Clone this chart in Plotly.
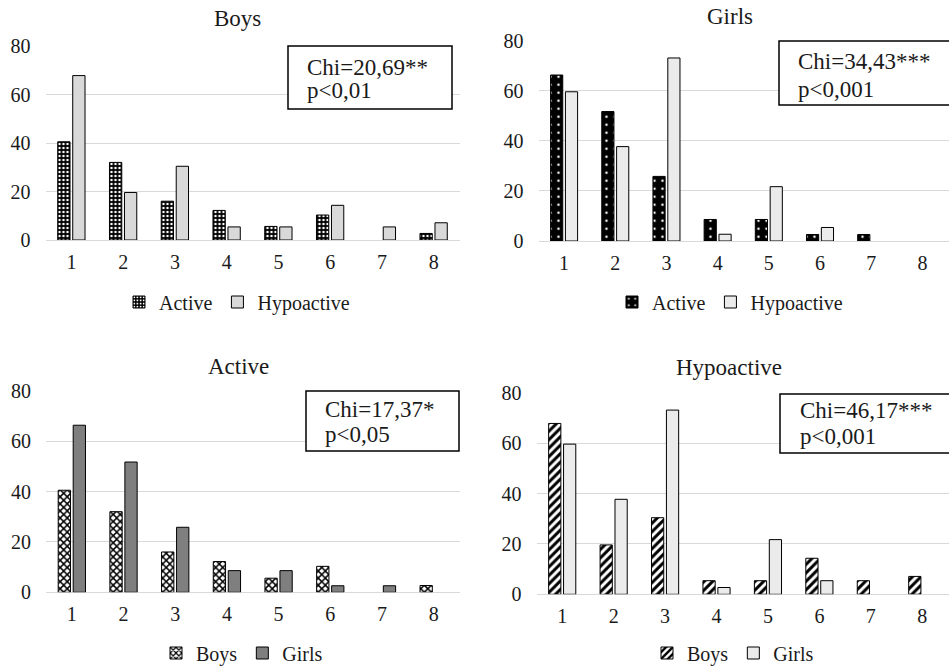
import plotly.graph_objects as go

categories = [1, 2, 3, 4, 5, 6, 7, 8]
boys_active = [40.5, 32.0, 16.0, 12.2, 5.6, 10.3, 0, 2.7]
boys_hypo = [67.8, 19.6, 30.4, 5.4, 5.4, 14.3, 5.4, 7.1]
girls_active = [66.3, 51.7, 25.8, 8.6, 8.6, 2.6, 2.6, 0]
girls_hypo = [59.6, 37.7, 73.1, 2.7, 21.7, 5.4, 0, 0]

panel_titles = ["Boys", "Girls", "Active", "Hypoactive"]
chi_texts = ["Chi=20,69**", "Chi=34,43***", "Chi=17,37*", "Chi=46,17***"]
p_texts = ["p<0,01", "p<0,001", "p<0,05", "p<0,001"]
yticks = [0, 20, 40, 60, 80]

W, H = 949, 667
FONT = '"Liberation Serif", "Times New Roman", serif'
TXT = "#1a1a1a"

def px(x):
    return x / W

def py(y):
    return 1 - y / H

def nz(vals):
    return [v if v else None for v in vals]

fig = go.Figure()

# panel geometry in pixels: (x0, x1, y_top(80), y_bottom(0))
panels = [
    (45.5, 459.5, 46.0, 240.0),
    (538.5, 949.0, 40.7, 241.0),
    (46.0, 459.5, 390.7, 592.3),
    (536.5, 949.0, 392.7, 594.3),
]
xranges = [[0.5, 8.5], [0.5, 8.52], [0.5, 8.5], [0.5, 8.52]]

line = dict(color="#000000", width=1)
series = [
    [("Active", boys_active, dict(color="#000000", line=line,
        pattern=dict(shape=".", bgcolor="#000000", fgcolor="#ffffff", size=4, solidity=0.3, fillmode="replace"))),
     ("Hypoactive", boys_hypo, dict(color="#d9d9d9", line=line))],
    [("Active", girls_active, dict(color="#000000", line=line,
        pattern=dict(shape=".", bgcolor="#000000", fgcolor="#ffffff", size=8, solidity=0.08, fillmode="replace"))),
     ("Hypoactive", girls_hypo, dict(color="#ebebeb", line=line))],
    [("Boys", boys_active, dict(color="#000000", line=line,
        pattern=dict(shape="x", bgcolor="#ffffff", fgcolor="#000000", size=5, solidity=0.5, fillmode="replace"))),
     ("Girls", girls_active, dict(color="#7f7f7f", line=line))],
    [("Boys", boys_hypo, dict(color="#000000", line=line,
        pattern=dict(shape="/", bgcolor="#ffffff", fgcolor="#000000", size=6, solidity=0.5, fillmode="replace"))),
     ("Girls", girls_hypo, dict(color="#ebebeb", line=line))],
]

legend_pos = [(237, 302), (730, 302), (242, 653), (733, 653)]
layout_extra = {}

for i, (x0, x1, yt, yb) in enumerate(panels):
    n = i + 1
    xa = "x" if n == 1 else f"x{n}"
    ya = "y" if n == 1 else f"y{n}"
    lg = "legend" if n == 1 else f"legend{n}"
    for name, vals, marker in series[i]:
        fig.add_trace(go.Bar(x=categories, y=nz(vals), name=name, marker=marker,
                             xaxis=xa, yaxis=ya, legend=lg, showlegend=True))
    xkey = "xaxis" if n == 1 else f"xaxis{n}"
    ykey = "yaxis" if n == 1 else f"yaxis{n}"
    layout_extra[xkey] = dict(domain=[px(x0), px(x1)], anchor=ya, range=xranges[i],
                              tickvals=categories, ticktext=[str(c) for c in categories],
                              showgrid=False, showline=False, zeroline=False, ticks="",
                              automargin=False, ticklabelstandoff=8,
                              tickfont=dict(family=FONT, size=20, color=TXT))
    layout_extra[ykey] = dict(domain=[py(yb), py(yt)], anchor=xa, range=[0, 80],
                              tickvals=yticks, showgrid=True, gridcolor="#d9d9d9", gridwidth=1,
                              zeroline=True, zerolinecolor="#d9d9d9", zerolinewidth=1,
                              showline=False, ticks="", automargin=False,
                              ticklabelstandoff=14,
                              tickfont=dict(family=FONT, size=20, color=TXT))
    lx, lyy = legend_pos[i]
    layout_extra[lg] = dict(orientation="h", x=px(lx), y=py(lyy), xanchor="center", yanchor="middle",
                            font=dict(family=FONT, size=20, color=TXT), bgcolor="rgba(0,0,0,0)",
                            itemwidth=30, tracegroupgap=0, traceorder="normal")

fig.update_layout(**layout_extra)

# titles
title_pos = [(237, 18), (730, 17), (239, 366), (729, 367)]
for t, (tx, ty) in zip(panel_titles, title_pos):
    fig.add_annotation(text=t, x=px(tx), y=py(ty), xref="paper", yref="paper",
                       xanchor="center", yanchor="middle", showarrow=False,
                       font=dict(family=FONT, size=23, color=TXT))

# chi boxes
boxes = [(288, 452, 46, 109), (779, 952, 41, 105), (306, 459, 391, 451), (780, 952, 394, 453)]
text_pos = [(305, 67, 93), (796, 62, 91), (323, 409, 436), (798, 410, 438)]
for (bx0, bx1, by0, by1), (tx, l1, l2), c, p in zip(boxes, text_pos, chi_texts, p_texts):
    fig.add_shape(type="rect", xref="paper", yref="paper",
                  x0=px(bx0), x1=px(bx1), y0=py(by1), y1=py(by0),
                  line=dict(color="#000000", width=1.5), fillcolor="#ffffff", layer="above")
    fig.add_annotation(text=c, x=px(tx), y=py(l1), xref="paper", yref="paper",
                       xanchor="left", yanchor="middle", showarrow=False,
                       font=dict(family=FONT, size=23, color=TXT))
    fig.add_annotation(text=p, x=px(tx), y=py(l2 - 2), xref="paper", yref="paper",
                       xanchor="left", yanchor="middle", showarrow=False,
                       font=dict(family=FONT, size=23, color=TXT))

fig.update_layout(width=W, height=H, margin=dict(l=0, r=0, t=0, b=0, pad=0, autoexpand=False),
                  paper_bgcolor="#ffffff", plot_bgcolor="#ffffff",
                  barmode="group", bargap=0.42, bargroupgap=0.18,
                  font=dict(family=FONT, size=20, color=TXT))

fig.write_html("out.html", config={"displayModeBar": False},
               post_script="document.body.style.margin='0';document.body.style.padding='0';")
